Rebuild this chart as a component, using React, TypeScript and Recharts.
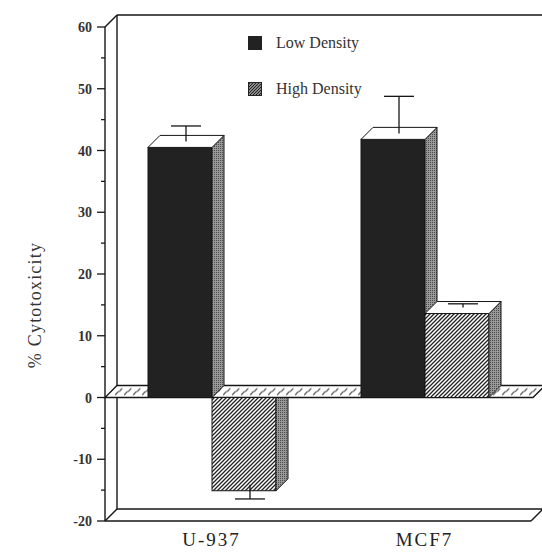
import React from "react";
import {
  Bar,
  BarChart,
  Legend,
  ReferenceArea,
  ReferenceLine,
  XAxis,
  YAxis,
} from "recharts";

const cellLines = ["U-937", "MCF7"];
const lowDensity = [40.5, 41.8];
const highDensity = [-15.1, 13.6];
const lowDensityErr = [2.5, 6.0];
const highDensityErr = [2.3, 0.6];
const yTicks = [-20, -15, -10, -5, 0, 5, 10, 15, 20, 25, 30, 35, 40, 45, 50, 55, 60];
const seriesNames = { low: "Low Density", high: "High Density" };

const data = cellLines.map((name, i) => ({
  name,
  low: lowDensity[i],
  high: highDensity[i],
  lowErr: lowDensityErr[i],
  highErr: highDensityErr[i],
}));

const DEPTH = 12;
const SERIF = '"Liberation Serif", "Times New Roman", serif';
const INK = "#161616";

// pseudo-3D bar: front face, top face, right side, error bar at mid depth
function Bar3D(props: any) {
  const { x, y, width, height, payload, dataKey, fill } = props;
  const v = payload[dataKey];
  const err = payload[dataKey + "Err"] ?? 0;
  const top = Math.min(y, y + height);
  const bottom = Math.max(y, y + height);
  const h = bottom - top;
  const ppu = v ? h / Math.abs(v) : 0;
  const d = DEPTH;
  const r = x + width;
  const cx = x + width / 2 + d / 2;

  if (v >= 0) {
    const e0 = top - d / 2;
    const e1 = e0 - err * ppu;
    return (
      <g>
        <rect x={x} y={top} width={width} height={h} fill={fill} stroke={INK} />
        <polygon
          points={`${r},${bottom} ${r},${top} ${r + d},${top - d} ${r + d},${bottom - d}`}
          fill="url(#sideFace)"
          stroke={INK}
        />
        <polygon
          points={`${x},${top} ${x + d},${top - d} ${r + d},${top - d} ${r},${top}`}
          fill="#fff"
          stroke={INK}
        />
        <line x1={cx} y1={e0} x2={cx} y2={e1} stroke={INK} strokeWidth={1.3} />
        <line x1={cx - 15} y1={e1} x2={cx + 15} y2={e1} stroke={INK} strokeWidth={1.3} />
      </g>
    );
  }
  const e0 = bottom - d / 2;
  const e1 = e0 + err * ppu;
  return (
    <g>
      <rect x={x} y={top} width={width} height={h} fill={fill} stroke={INK} />
      <polygon
        points={`${r},${top} ${r + d},${top} ${r + d},${bottom - d} ${r},${bottom}`}
        fill="url(#sideFace)"
        stroke={INK}
      />
      <line x1={cx} y1={e0} x2={cx} y2={e1} stroke={INK} strokeWidth={1.3} />
      <line x1={cx - 15} y1={e1} x2={cx + 15} y2={e1} stroke={INK} strokeWidth={1.3} />
    </g>
  );
}

// back wall + floor of the box, plus shared patterns
function Frame(props: any) {
  const { x, y, width, height } = props;
  const d = DEPTH;
  const b = y + height;
  const rr = x + width;
  return (
    <g>
      <defs>
        <pattern id="hatch" width="4" height="4" patternUnits="userSpaceOnUse">
          <rect width="4" height="4" fill="#fff" />
          <path d="M-1,1 L1,-1 M0,4 L4,0 M3,5 L5,3" stroke="#222" strokeWidth="1.3" />
        </pattern>
        <pattern id="sideFace" width="2" height="2" patternUnits="userSpaceOnUse">
          <rect width="2" height="2" fill="#999" />
          <rect width="1" height="1" fill="#4a4a4a" />
        </pattern>
      </defs>
      <g stroke={INK} strokeWidth={1.4} fill="none">
        <line x1={x} y1={y} x2={x + d} y2={y - d} />
        <line x1={x + d} y1={y - d} x2={rr + 40} y2={y - d} />
        <line x1={x + d} y1={y - d} x2={x + d} y2={b - d} />
        <line x1={x + d} y1={b - d} x2={rr + d} y2={b - d} />
        <line x1={x} y1={b} x2={rr} y2={b} />
        <line x1={x} y1={b} x2={x + d} y2={b - d} />
        <line x1={rr} y1={b} x2={rr + d} y2={b - d} />
      </g>
    </g>
  );
}

// the hatched zero plane
function ZeroPlane(props: any) {
  const { x1, x2, y1 } = props;
  const d = DEPTH;
  return (
    <g>
      <defs>
        <pattern id="planeMarks" x={x1} y={y1 - d} width="9" height={d} patternUnits="userSpaceOnUse">
          <rect width="9" height={d} fill="#fff" />
          <path d="M1,9 C2.5,9.5 3,6 5,6 C6.5,6 7,3 8.5,3" stroke="#333" strokeWidth="1.2" fill="none" />
        </pattern>
      </defs>
      <polygon
        points={`${x1},${y1} ${x2 + 2},${y1} ${x2 + 2 + d},${y1 - d} ${x1 + d},${y1 - d}`}
        fill="url(#planeMarks)"
        stroke={INK}
        strokeWidth={1.3}
      />
    </g>
  );
}

function YTick(props: any) {
  const { x, y, payload } = props;
  const major = payload.value % 10 === 0;
  return (
    <g>
      <line x1={major ? x + 5 : x + 9} y1={y} x2={x + 13} y2={y} stroke={INK} strokeWidth={1.3} />
      {major && (
        <text
          x={x}
          y={y}
          dy={5}
          textAnchor="end"
          fontFamily={SERIF}
          fontWeight="bold"
          fontSize={14}
          fill="#333"
        >
          {payload.value}
        </text>
      )}
    </g>
  );
}

function XTick(props: any) {
  const { x, payload } = props;
  return (
    <text
      x={x}
      y={546}
      textAnchor="middle"
      fontFamily={SERIF}
      fontSize={19}
      letterSpacing={2}
      fill="#222"
    >
      {payload.value}
    </text>
  );
}

function YLabel(props: any) {
  const { viewBox } = props;
  const cx = viewBox.x + 35;
  const cy = 305;
  return (
    <text
      x={cx}
      y={cy}
      transform={`rotate(-90 ${cx} ${cy})`}
      textAnchor="middle"
      dominantBaseline="central"
      fontFamily={SERIF}
      fontSize={18}
      letterSpacing={1.2}
      fill="#333"
    >
      % Cytotoxicity
    </text>
  );
}

function LegendBox() {
  const rows = [
    { key: "low", label: seriesNames.low },
    { key: "high", label: seriesNames.high },
  ];
  return (
    <div style={{ fontFamily: SERIF, fontSize: 16, color: "#333" }}>
      {rows.map((r) => (
        <div key={r.key} style={{ display: "flex", alignItems: "center", height: 46 }}>
          <svg width={14} height={14} style={{ marginRight: 14 }}>
            <defs>
              <pattern id="legHatch" width="3" height="3" patternUnits="userSpaceOnUse">
                <rect width="3" height="3" fill="#888" />
                <path d="M0,3 L3,0" stroke="#222" strokeWidth="1" />
              </pattern>
            </defs>
            <rect
              x={0.5}
              y={0.5}
              width={13}
              height={13}
              fill={r.key === "low" ? "#222" : "url(#legHatch)"}
              stroke="#222"
            />
          </svg>
          <span>{r.label}</span>
        </div>
      ))}
    </div>
  );
}

export default function App() {
  return (
    <div style={{ position: "absolute", left: 0, top: 0 }}>
      <BarChart
        width={542}
        height={552}
        data={data}
        margin={{ top: 27, right: 11, left: 0, bottom: 0 }}
        barSize={64}
        barGap={0}
      >
        <ReferenceArea y1={-20} y2={60} shape={<Frame />} zIndex={0} />
        <ReferenceLine y={0} shape={<ZeroPlane />} zIndex={1} />
        <XAxis
          dataKey="name"
          axisLine={false}
          tickLine={false}
          height={31}
          tick={<XTick />}
          interval={0}
        />
        <YAxis
          domain={[-20, 60]}
          ticks={yTicks}
          interval={0}
          width={105}
          tickSize={8}
          tickMargin={5}
          tickLine={false}
          axisLine={{ stroke: INK, strokeWidth: 1.4 }}
          tick={<YTick />}
          label={<YLabel />}
          allowDataOverflow
        />
        <Legend
          layout="vertical"
          align="center"
          verticalAlign="middle"
          content={<LegendBox />}
          wrapperStyle={{ top: 20, left: 248, width: 170 }}
        />
        <Bar dataKey="low" name={seriesNames.low} fill="#222" shape={<Bar3D />} isAnimationActive={false} />
        <Bar dataKey="high" name={seriesNames.high} fill="url(#hatch)" shape={<Bar3D />} isAnimationActive={false} />
      </BarChart>
    </div>
  );
}
